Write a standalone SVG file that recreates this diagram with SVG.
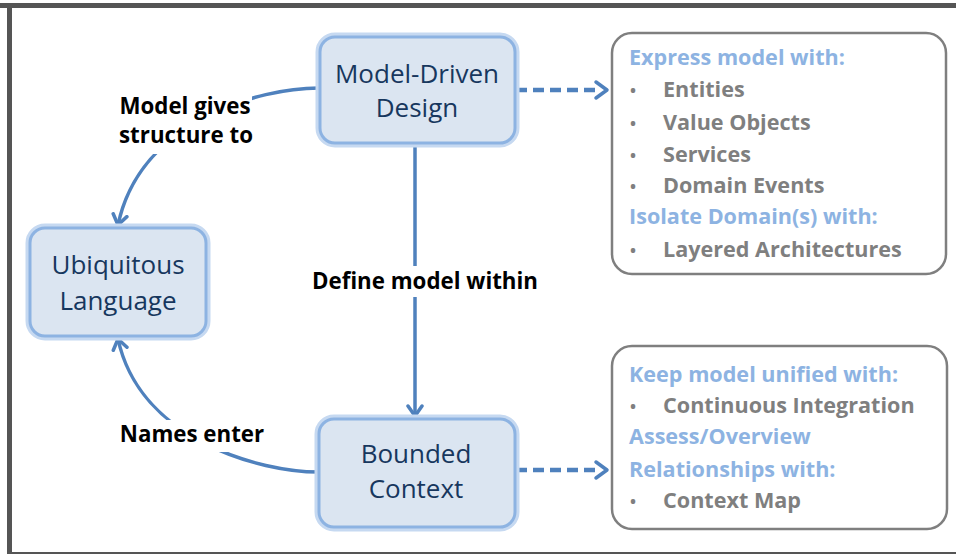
<svg xmlns="http://www.w3.org/2000/svg" width="956" height="554" viewBox="0 0 956 554">
<style>
.node-glow{fill:none;stroke:#c6d9f1;stroke-width:9;}
.node-box{fill:#dbe5f1;stroke:#8db3e2;stroke-width:3;}
.node-text{font-family:"Open Sans","Liberation Sans",sans-serif;font-size:26px;fill:#17375e;text-anchor:middle;}
.lbl{font-family:"Open Sans","Liberation Sans",sans-serif;font-size:22.3px;font-weight:bold;fill:#000;text-anchor:middle;}
.lbl-bg{fill:#fff;}
.conn{fill:none;stroke:#4f81bd;stroke-width:3.5;}
.dash{fill:none;stroke:#4f81bd;stroke-width:4.5;stroke-dasharray:11 6;}
.info{fill:#fff;stroke:#7f7f7f;stroke-width:2.5;}
.hd{font-family:"Open Sans","Liberation Sans",sans-serif;font-size:21.6px;font-weight:bold;fill:#8db3e2;}
.it{font-family:"Open Sans","Liberation Sans",sans-serif;font-size:21.6px;font-weight:bold;fill:#7f7f7f;}
.bul{font-family:"Open Sans","Liberation Sans",sans-serif;font-size:16px;font-weight:bold;fill:#7f7f7f;}
</style>
<defs>
<marker id="arr" viewBox="0 0 14 18" refX="12" refY="9" markerWidth="14" markerHeight="18" markerUnits="userSpaceOnUse" orient="auto">
<path d="M2,2 L12,9 L2,16" fill="none" stroke="#4f81bd" stroke-width="3.5" stroke-linecap="round" stroke-linejoin="round" stroke-dasharray="none"/>
</marker>
</defs>
<rect width="956" height="554" fill="#fff"/>
<g id="frame">
<rect x="0" y="3" width="956" height="5" fill="#555"/>
<rect x="7" y="3" width="5" height="551" fill="#555"/>
<rect x="7" y="552" width="949" height="2" fill="#555"/>
</g>
<g id="connectors">
<path class="conn" d="M319,88 C260,88 140,120 118,225" marker-end="url(#arr)"/>
<path class="conn" d="M319,472 C260,472 140,440 118,339" marker-end="url(#arr)"/>
<path class="conn" d="M415,144 L415,416" marker-end="url(#arr)"/>
<path class="dash" d="M516,90 L600,90"/>
<path class="conn" d="M596,82 L607,90 L596,98" stroke-width="4" stroke-linecap="round" stroke-linejoin="round"/>
<path class="dash" d="M516,470 L600,470"/>
<path class="conn" d="M596,462 L607,470 L596,478" stroke-width="4" stroke-linecap="round" stroke-linejoin="round"/>
</g>
<g id="label-model-gives">
<rect class="lbl-bg" x="114" y="92" width="138" height="62"/>
<text class="lbl" x="185" y="114">Model gives</text>
<text class="lbl" x="186" y="143">structure to</text>
</g>
<g id="label-define">
<rect class="lbl-bg" x="308" y="266" width="234" height="31"/>
<text class="lbl" x="425" y="289">Define model within</text>
</g>
<g id="label-names">
<rect class="lbl-bg" x="116" y="420" width="152" height="32"/>
<text class="lbl" x="192" y="442">Names enter</text>
</g>
<g id="node-mdd">
<rect class="node-glow" x="320" y="37" width="195" height="106" rx="15"/>
<rect class="node-box" x="320" y="37" width="195" height="106" rx="15"/>
<text class="node-text" x="417" y="83">Model-Driven</text>
<text class="node-text" x="417" y="117">Design</text>
</g>
<g id="node-ul">
<rect class="node-glow" x="30" y="228" width="176" height="108" rx="15"/>
<rect class="node-box" x="30" y="228" width="176" height="108" rx="15"/>
<text class="node-text" x="118" y="274">Ubiquitous</text>
<text class="node-text" x="118" y="310">Language</text>
</g>
<g id="node-bc">
<rect class="node-glow" x="319" y="419" width="196" height="108" rx="15"/>
<rect class="node-box" x="319" y="419" width="196" height="108" rx="15"/>
<text class="node-text" x="416" y="463">Bounded</text>
<text class="node-text" x="416" y="498">Context</text>
</g>
<g id="info-mdd">
<rect class="info" x="612" y="33" width="334" height="241" rx="20"/>
<text class="hd" x="629" y="65">Express model with:</text>
<text class="bul" x="630" y="96">•</text><text class="it" x="663" y="97">Entities</text>
<text class="bul" x="630" y="129">•</text><text class="it" x="663" y="130">Value Objects</text>
<text class="bul" x="630" y="161">•</text><text class="it" x="663" y="162">Services</text>
<text class="bul" x="630" y="192">•</text><text class="it" x="663" y="193">Domain Events</text>
<text class="hd" x="629" y="224">Isolate Domain(s) with:</text>
<text class="bul" x="630" y="256">•</text><text class="it" x="663" y="257">Layered Architectures</text>
</g>
<g id="info-bc">
<rect class="info" x="612" y="346" width="335" height="183" rx="20"/>
<text class="hd" x="629" y="382">Keep model unified with:</text>
<text class="bul" x="630" y="412">•</text><text class="it" x="663" y="413">Continuous Integration</text>
<text class="hd" x="629" y="444">Assess/Overview</text>
<text class="hd" x="629" y="477">Relationships with:</text>
<text class="bul" x="630" y="507">•</text><text class="it" x="663" y="508">Context Map</text>
</g>
</svg>
